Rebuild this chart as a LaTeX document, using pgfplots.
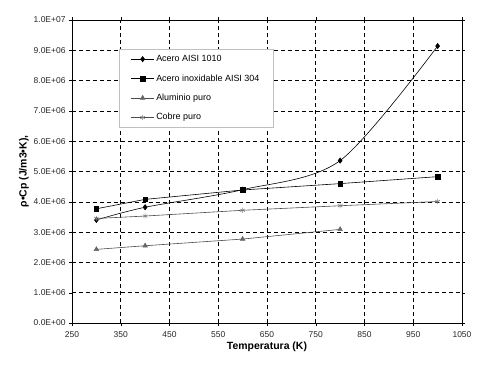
\documentclass[border=0pt]{standalone}
\usepackage{pgfplots}
\pgfplotsset{compat=1.18}
\usepackage{fontspec}
\setmainfont{Liberation Sans}
\begin{document}
\begin{tikzpicture}
\begin{axis}[
  scale only axis,
  width=390bp, height=303bp,
  xmin=250, xmax=1050, ymin=0, ymax=1e7,
  xtick={250,350,...,1050},
  ytick={0,1e6,2e6,3e6,4e6,5e6,6e6,7e6,8e6,9e6,1e7},
  yticklabels={0.0E+00,1.0E+06,2.0E+06,3.0E+06,4.0E+06,5.0E+06,6.0E+06,7.0E+06,8.0E+06,9.0E+06,1.0E+07},
  scaled y ticks=false,
  /pgf/number format/assume math mode=true,
  /pgf/number format/1000 sep={},
  ticklabel style={font=\fontsize{8.5}{10}\selectfont, text=black!85},
  xticklabel style={yshift=-2bp},
  grid=major,
  major grid style={black, dash pattern=on 4pt off 3pt, line width=0.6pt},
  axis line style={black, line width=0.7pt},
  tick style={black},
  tick align=outside,
  major tick length=3bp,
  xlabel={\textbf{Temperatura (K)}},
  ylabel={\textbf{ρ•Cp (J/m3•K),}},
  label style={font=\fontsize{10.5}{12}\selectfont},
  xlabel style={yshift=2bp},
  ylabel style={yshift=-2bp},
  legend cell align=left,
  legend style={at={(0.12,0.904)}, anchor=north west, draw=black!25,
    font=\fontsize{9}{10}\selectfont, row sep=7.5bp, inner xsep=12bp, inner ysep=4bp},
  legend image code/.code={\draw[mark repeat=2,mark phase=2] plot coordinates {(0cm,0cm) (0.4cm,0cm) (0.8cm,0cm)};},
]
\addplot[black, line width=0.6pt, smooth, mark=diamond*, mark size=2.6bp, mark options={solid,fill=black}]
  coordinates {(300,3.40e6) (400,3.82e6) (600,4.40e6) (800,5.36e6) (1000,9.14e6)};
\addlegendentry{Acero AISI 1010}
\addplot[black, line width=0.6pt, mark=square*, mark size=2.3bp, mark options={solid,fill=black}]
  coordinates {(300,3.77e6) (400,4.08e6) (600,4.39e6) (800,4.60e6) (1000,4.83e6)};
\addlegendentry{Acero inoxidable AISI 304}
\addplot[black!70, line width=0.6pt, mark=triangle*, mark size=2.6bp, mark options={solid,fill=black!60,draw=black!60}]
  coordinates {(300,2.43e6) (400,2.55e6) (600,2.77e6) (800,3.09e6)};
\addlegendentry{Aluminio puro}
\addplot[black!70, line width=0.6pt, mark=asterisk, mark size=2.6bp, mark options={solid,draw=black!50}]
  coordinates {(300,3.45e6) (400,3.53e6) (600,3.72e6) (800,3.87e6) (1000,4.01e6)};
\addlegendentry{Cobre puro}
\end{axis}
\path (current axis.south west) ++(-72bp,-49bp) rectangle ++(500bp,372bp);
\end{tikzpicture}
\end{document}
